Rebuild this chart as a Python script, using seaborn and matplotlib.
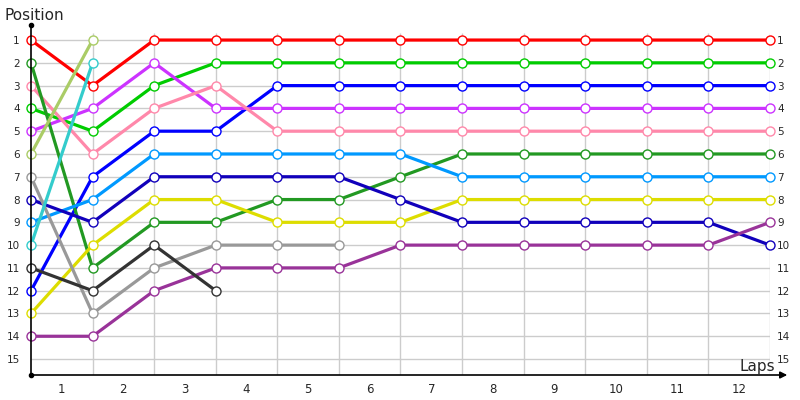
import numpy as np
import pandas as pd
import matplotlib
matplotlib.use("Agg")
import matplotlib.pyplot as plt
import seaborn as sns

# lap chart data: position after each lap (lap 0 = grid)
LAPS = list(range(0, 13))
LAP_LABELS = [str(i) for i in range(1, 13)]
POSITIONS = list(range(1, 16))

red = [1, 3, 1, 1, 1, 1, 1, 1, 1, 1, 1, 1, 1]
green = [4, 5, 3, 2, 2, 2, 2, 2, 2, 2, 2, 2, 2]
blue = [12, 7, 5, 5, 3, 3, 3, 3, 3, 3, 3, 3, 3]
purple = [5, 4, 2, 4, 4, 4, 4, 4, 4, 4, 4, 4, 4]
pink = [3, 6, 4, 3, 5, 5, 5, 5, 5, 5, 5, 5, 5]
dark_green = [2, 11, 9, 9, 8, 8, 7, 6, 6, 6, 6, 6, 6]
light_blue = [9, 8, 6, 6, 6, 6, 6, 7, 7, 7, 7, 7, 7]
yellow = [13, 10, 8, 8, 9, 9, 9, 8, 8, 8, 8, 8, 8]
navy = [8, 9, 7, 7, 7, 7, 8, 9, 9, 9, 9, 9, 10]
violet = [14, 14, 12, 11, 11, 11, 10, 10, 10, 10, 10, 10, 9]
gray = [7, 13, 11, 10, 10, 10]
dark = [11, 12, 10, 12]
olive = [6, 1]
cyan = [10, 2]

DRIVERS = {
    "red": (red, "#ff0000"),
    "green": (green, "#00cc00"),
    "blue": (blue, "#0000ff"),
    "purple": (purple, "#cc33ff"),
    "pink": (pink, "#ff88aa"),
    "dark_green": (dark_green, "#229922"),
    "light_blue": (light_blue, "#0099ff"),
    "yellow": (yellow, "#dddd00"),
    "navy": (navy, "#1100bb"),
    "violet": (violet, "#993399"),
    "gray": (gray, "#999999"),
    "dark": (dark, "#333333"),
    "olive": (olive, "#aacc66"),
    "cyan": (cyan, "#33cccc"),
}

rows = []
for name, (pos, col) in DRIVERS.items():
    for lap, p in zip(LAPS, pos):
        rows.append({"driver": name, "lap": lap, "pos": p})
df = pd.DataFrame(rows)
palette = {k: v[1] for k, v in DRIVERS.items()}

sns.set_style("white")
plt.rcParams["font.family"] = ["DejaVu Sans"]

fig = plt.figure(figsize=(8, 4), dpi=100)
ax = fig.add_axes([31 / 800, 25 / 400, 739 / 800, 350 / 400])

Y_TOP, Y_BOT = 0.34, 15.7

# grid
ax.hlines(POSITIONS, 0, 12, color="#cccccc", lw=1, zorder=0)
ax.vlines(LAPS[1:], 0.7, Y_BOT, color="#cccccc", lw=1, zorder=0)

sns.lineplot(data=df, x="lap", y="pos", hue="driver", palette=palette,
             hue_order=list(DRIVERS.keys()), estimator=None, errorbar=None,
             sort=True, lw=2.3, marker="o", ms=6.5, legend=False, ax=ax)
for line in ax.lines:
    c = line.get_color()
    line.set_markerfacecolor("white")
    line.set_markeredgecolor(c)
    line.set_markeredgewidth(1.0)
    line.set_clip_on(False)

ax.set_xlim(0, 12)
ax.set_ylim(Y_BOT, Y_TOP)
ax.set_yticks(POSITIONS)
ax.set_yticklabels([str(p) for p in POSITIONS], fontsize=7.5)
ax.set_xticks([l + 0.5 for l in LAPS[:-1]])
ax.set_xticklabels(LAP_LABELS, fontsize=8.5)
ax.tick_params(axis="both", length=0)
ax.tick_params(axis="y", pad=8)
ax.tick_params(axis="x", pad=6)
ax.set_xlabel("")
ax.set_ylabel("")

for s in ["top", "right", "bottom"]:
    ax.spines[s].set_visible(False)
ax.spines["left"].set_color("black")
ax.spines["left"].set_linewidth(1.2)

ax2 = ax.twinx()
ax2.set_ylim(Y_BOT, Y_TOP)
ax2.set_yticks(POSITIONS)
ax2.set_yticklabels([str(p) for p in POSITIONS], fontsize=7.5)
ax2.tick_params(axis="y", length=0, pad=5)
for s in ax2.spines.values():
    s.set_visible(False)

# axis arrow and dots
ax.annotate("", xy=(12.28, Y_BOT), xytext=(0, Y_BOT),
            arrowprops=dict(arrowstyle="-|>", color="black", lw=1.2,
                            mutation_scale=10, shrinkA=0, shrinkB=0),
            annotation_clip=False)
ax.plot([0, 0], [Y_TOP, Y_BOT], "o", color="black", ms=3, clip_on=False)

fig.text(5 / 800, 1 - 16 / 400, "Position", fontsize=11, va="center", ha="left")
fig.text(775 / 800, 1 - 366 / 400, "Laps", fontsize=11, va="center", ha="right")

fig.savefig("out.png", dpi=100)
